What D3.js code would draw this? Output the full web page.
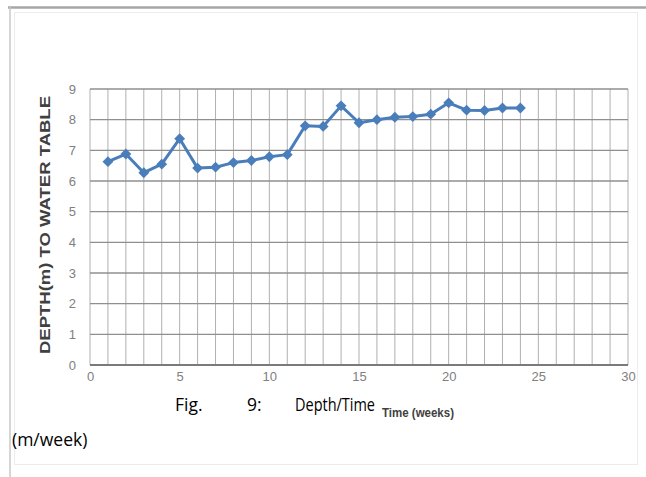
<!DOCTYPE html>
<html>
<head>
<meta charset="utf-8">
<script src="https://cdn.jsdelivr.net/npm/d3@7"></script>
<style>
  html, body { margin: 0; padding: 0; background: #fff; }
  svg { display: block; }
</style>
</head>
<body>
<svg id="chart" width="646" height="477"></svg>
<script>
// Weekly depth to the water table (m)
const weeks  = [1, 2, 3, 4, 5, 6, 7, 8, 9, 10, 11, 12, 13, 14, 15, 16, 17, 18, 19, 20, 21, 22, 23, 24];
const depths = [6.63, 6.88, 6.27, 6.55, 7.38, 6.42, 6.45, 6.6, 6.67, 6.79, 6.86, 7.8, 7.78, 8.45,
                7.9, 8.0, 8.08, 8.1, 8.18, 8.55, 8.31, 8.3, 8.38, 8.38];
const xTicks = [0, 5, 10, 15, 20, 25, 30];
const yTicks = [0, 1, 2, 3, 4, 5, 6, 7, 8, 9];
const xGrid  = d3.range(0, 31);
const yLabel = "DEPTH(m) TO WATER TABLE";
const xLabel = "Time (weeks)";
const captionParts = ["Fig.", "9:", "Depth/Time"];
const captionLine2 = "(m/week)";

const svg = d3.select("#chart");
const W = 646, H = 477;
const plot = { left: 90, right: 628, top: 89, bottom: 365 };

const x = d3.scaleLinear().domain([0, 30]).range([plot.left, plot.right]);
const y = d3.scaleLinear().domain([0, 9]).range([plot.bottom, plot.top]);

// page frame and chart area
svg.append("line").attr("x1", 8).attr("x2", W).attr("y1", 7.5).attr("y2", 7.5)
  .attr("stroke", "#a6a6a6").attr("stroke-width", 2.5);
svg.append("line").attr("x1", 10).attr("x2", 10).attr("y1", 7).attr("y2", H)
  .attr("stroke", "#c8c8c8").attr("stroke-width", 1.5);
svg.append("rect").attr("x", 14.5).attr("y", 12.5).attr("width", 623).attr("height", 452)
  .attr("fill", "none").attr("stroke", "#ececec").attr("stroke-width", 1);

// vertical gridlines
svg.append("g")
  .selectAll("line").data(xGrid).join("line")
  .attr("x1", d => x(d)).attr("x2", d => x(d))
  .attr("y1", plot.top).attr("y2", plot.bottom)
  .attr("stroke", "#b0b0b0").attr("stroke-width", 1);

// horizontal gridlines
svg.append("g")
  .selectAll("line").data(yTicks).join("line")
  .attr("x1", plot.left).attr("x2", plot.right)
  .attr("y1", d => y(d)).attr("y2", d => y(d))
  .attr("stroke", "#8f8f8f").attr("stroke-width", 1.3);

// x axis baseline
svg.append("line").attr("x1", plot.left).attr("x2", plot.right)
  .attr("y1", y(0)).attr("y2", y(0)).attr("stroke", "#7a7a7a").attr("stroke-width", 2);

// y axis ticks
const yAxis = d3.axisLeft(y).tickValues(yTicks).tickSize(0).tickPadding(14).tickFormat(d3.format("d"));
const gy = svg.append("g").attr("transform", `translate(${plot.left},0)`).call(yAxis);
gy.select(".domain").remove();
gy.selectAll("text").attr("fill", "#808080").style("font-family", "Liberation Sans, Arial, sans-serif").style("font-size", "13px");

// x axis ticks
const xAxis = d3.axisBottom(x).tickValues(xTicks).tickSize(0).tickPadding(7).tickFormat(d3.format("d"));
const gx = svg.append("g").attr("transform", `translate(0,${plot.bottom})`).call(xAxis);
gx.select(".domain").remove();
gx.selectAll("text").attr("fill", "#808080").style("font-family", "Liberation Sans, Arial, sans-serif").style("font-size", "13px");

// series line and markers
const line = d3.line().x((d, i) => x(weeks[i])).y(d => y(d));
svg.append("path").datum(depths)
  .attr("d", line).attr("fill", "none")
  .attr("stroke", "#4a7ebb").attr("stroke-width", 3).attr("stroke-linejoin", "round");

svg.append("g").selectAll("path").data(depths).join("path")
  .attr("transform", (d, i) => `translate(${x(weeks[i])},${y(d)})`)
  .attr("d", d3.symbol(d3.symbolDiamond2, 75)())
  .attr("fill", "#4a7ebb");

// axis titles
svg.append("text")
  .attr("transform", `translate(50,${(plot.top + plot.bottom) / 2 - 2}) rotate(-90)`)
  .attr("text-anchor", "middle")
  .attr("fill", "#404040")
  .attr("textLength", 258).attr("lengthAdjust", "spacingAndGlyphs")
  .style("font-family", "Liberation Sans, Arial, sans-serif")
  .style("font-size", "14.5px").style("font-weight", "bold")
  .text(yLabel);

svg.append("text")
  .attr("x", 418).attr("y", 417)
  .attr("text-anchor", "middle")
  .attr("fill", "#404040")
  .attr("textLength", 72).attr("lengthAdjust", "spacingAndGlyphs")
  .style("font-family", "Liberation Sans Narrow, Liberation Sans, sans-serif")
  .style("font-size", "13px").style("font-weight", "bold")
  .text(xLabel);

// figure caption
const capX = [175, 247, 295];
const capLen = [null, null, 80];
svg.append("text")
  .attr("y", 411)
  .attr("fill", "#000")
  .style("font-family", "Open Sans, sans-serif")
  .style("font-size", "17.5px")
  .selectAll("tspan").data(captionParts).join("tspan")
  .attr("x", (d, i) => capX[i])
  .attr("textLength", (d, i) => capLen[i])
  .attr("lengthAdjust", "spacingAndGlyphs")
  .text(d => d);

svg.append("text")
  .attr("x", 12).attr("y", 446)
  .attr("fill", "#000")
  .style("font-family", "Open Sans, sans-serif")
  .style("font-size", "17.5px")
  .text(captionLine2);
</script>
</body>
</html>
